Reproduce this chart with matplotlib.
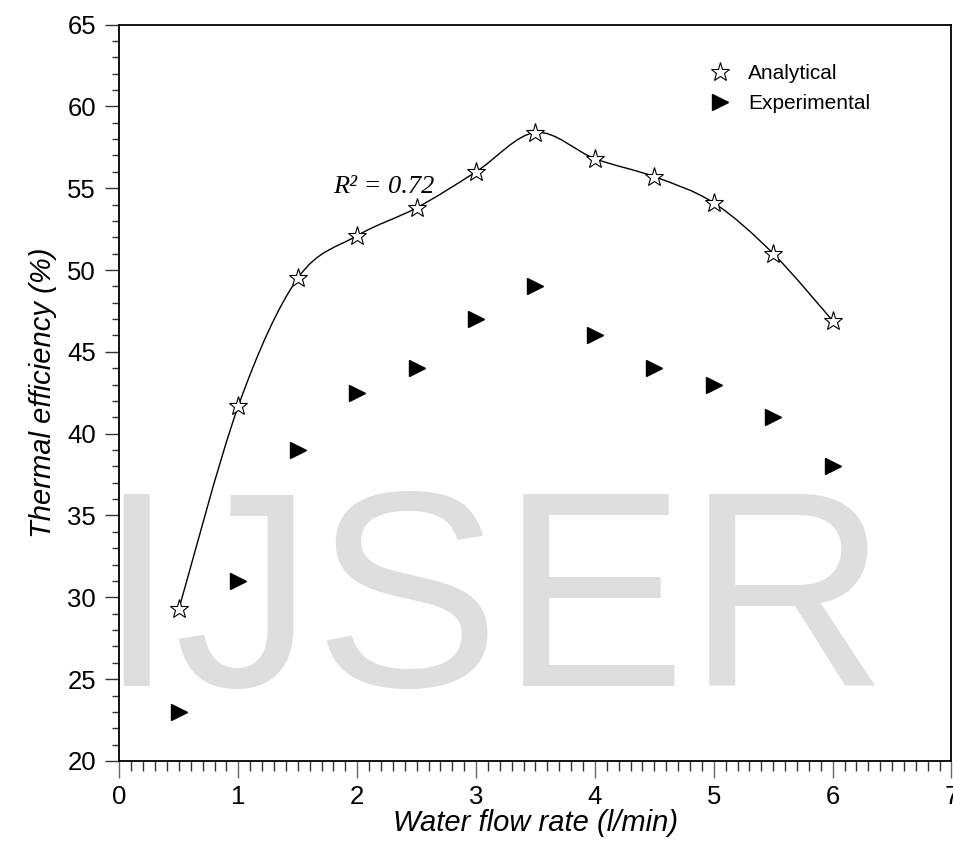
import numpy as np
import matplotlib
matplotlib.use("Agg")
import matplotlib.pyplot as plt
from matplotlib.path import Path
from matplotlib.patches import PathPatch
from matplotlib.ticker import MultipleLocator

plt.rcParams["font.family"] = ["Liberation Sans", "DejaVu Sans"]

flow_rate = [0.5, 1.0, 1.5, 2.0, 2.5, 3.0, 3.5, 4.0, 4.5, 5.0, 5.5, 6.0]
analytical = [29.3, 41.7, 49.5, 52.1, 53.8, 56.0, 58.4, 56.8, 55.7, 54.1, 51.0, 46.9]
experimental = [23.0, 31.0, 39.0, 42.5, 44.0, 47.0, 49.0, 46.0, 44.0, 43.0, 41.0, 38.0]
r2_label = "R\u00b2 = 0.72"


def smooth_path(x, y):
    # Catmull-Rom through the points, drawn as cubic Bezier segments
    p = np.column_stack([x, y]).astype(float)
    ext = np.vstack([p[0], p, p[-1]])
    verts = [tuple(p[0])]
    codes = [Path.MOVETO]
    for i in range(1, len(ext) - 2):
        c1 = ext[i] + (ext[i + 1] - ext[i - 1]) / 6.0
        c2 = ext[i + 1] - (ext[i + 2] - ext[i]) / 6.0
        verts += [tuple(c1), tuple(c2), tuple(ext[i + 1])]
        codes += [Path.CURVE4] * 3
    return Path(verts, codes)


fig = plt.figure(figsize=(9.54, 8.41), dpi=100)
ax = fig.add_axes([119.5 / 954, 1 - 761 / 841, 832 / 954, 736.5 / 841])
ax.set_facecolor("none")

# watermark
fig.text(493 / 954, 1 - 686 / 841, "IJSER", fontsize=201, color="#dedede",
         ha="center", va="baseline", zorder=0)

ax.add_patch(PathPatch(smooth_path(flow_rate, analytical), facecolor="none",
                       edgecolor="black", lw=1.0, zorder=2))
ax.plot(flow_rate, analytical, ls="none", marker="*", ms=14, mfc="white",
        mec="black", mew=0.8, label="Analytical", zorder=3)
ax.plot(flow_rate, experimental, ls="none", marker=">", ms=11, color="black",
        label="Experimental", zorder=3)

ax.text(1.80, 54.7, r2_label, fontsize=19, style="italic",
        family=["Liberation Serif", "DejaVu Serif"], ha="left", va="baseline")

ax.set_xlim(0, 7)
ax.set_ylim(20, 65)
ax.xaxis.set_major_locator(MultipleLocator(1))
ax.xaxis.set_minor_locator(MultipleLocator(0.1))
ax.yaxis.set_major_locator(MultipleLocator(5))
ax.yaxis.set_minor_locator(MultipleLocator(1))
ax.tick_params(axis="both", which="both", direction="out", labelsize=18.5)
ax.tick_params(axis="y", which="major", length=10, width=1, color="#333333", pad=7)
ax.tick_params(axis="y", which="minor", length=5, width=1, color="#333333")
ax.tick_params(axis="x", which="major", length=12, width=1, color="#666666", pad=5)
ax.tick_params(axis="x", which="minor", length=7, width=1, color="#333333")
for s in ax.spines.values():
    s.set_linewidth(1.3)

ax.set_xlabel("Water flow rate (l/min)", fontsize=21, style="italic", labelpad=0)
ax.set_ylabel("Thermal efficiency (%)", fontsize=21, style="italic", labelpad=7)

ax.legend(loc="upper left", bbox_to_anchor=(0.68, 0.972), frameon=False,
          fontsize=15, handlelength=1.5, handletextpad=0.6, labelspacing=0.55)

fig.savefig("out.png", dpi=100)
